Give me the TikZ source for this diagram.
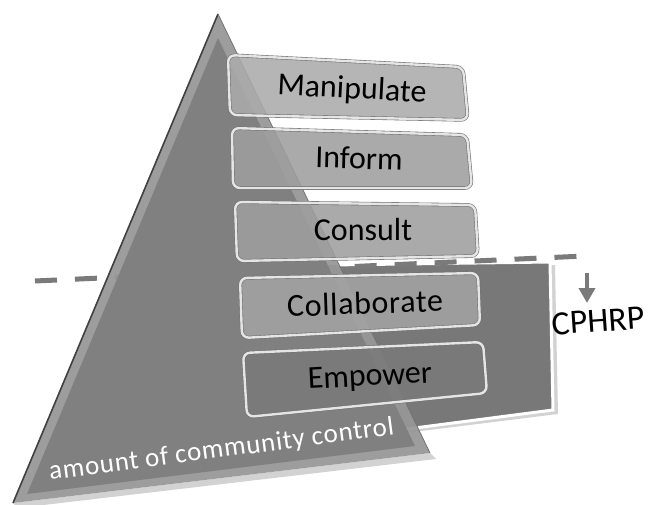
\documentclass[tikz,border=0pt]{standalone}
\usepackage{fontspec}
\setmainfont{Carlito}
\usetikzlibrary{arrows.meta}

\definecolor{panelgray}{HTML}{787878}
\definecolor{trigray}{HTML}{7F7F7F}
\definecolor{bevelgray}{HTML}{979797}
\definecolor{dashgray}{HTML}{7A7A7A}

\begin{document}
\begin{tikzpicture}[x=1pt,y=-1pt,
	rung/.style={rounded corners=7pt,fill opacity=.88,draw=black!55,double=black!10,double distance=2.4pt,line width=.6pt},
	rungtext/.style={font=\fontsize{32}{36}\selectfont,text=black},
	level/.style={line width=5pt,draw=dashgray,dash pattern=on 22pt off 18pt},
	down/.style={line width=4pt,draw=dashgray,-{Triangle[width=16pt,length=15pt]}}]
	\useasboundingbox (0,0) rectangle (648,505);

	% back panel
	\fill[gray!35] (333,268) -- (555,265) -- (558,414) -- (333,442) -- cycle;
	\draw[fill=panelgray,draw=white,line width=3pt] (330,265) -- (550,262) -- (553,410) -- (330,439) -- cycle;

	% dashed level line
	\coordinate (dashL) at (35,281);
	\coordinate (dashR) at (585,256);
	\draw[level] (dashL) -- (dashR);

	% triangle
	\fill[gray!35] (13,503) -- (430,453) -- (436,459) -- (18,508) -- cycle;
	\fill[bevelgray,fill opacity=.94] (218,14) -- (430,453) -- (13,503) -- cycle;
	\fill[trigray,fill opacity=.94] (218,38) -- (415,446) -- (27,494) -- cycle;
	\draw[black!75,line width=1.6pt] (218,14) -- (13,503);
	\draw[black!55,line width=.8pt] (218,14) -- (430,453);

	% rungs
	\draw[rung,fill=black!33] (228,55) -- (463,67) -- (468,120) -- (230,115) -- cycle;
	\draw[rung,fill=black!38] (232,128) -- (467,135) -- (472,188) -- (233,188) -- cycle;
	\draw[rung,fill=black!38] (235,202) -- (475,205) -- (478,256) -- (237,261) -- cycle;
	\draw[rung,fill=black!36] (240,278) -- (478,273) -- (480,325) -- (242,338) -- cycle;
	\draw[rung,fill=black!52] (243,353) -- (483,342) -- (487,393) -- (247,417) -- cycle;

	\node[rungtext,rotate=-3] (manip) at (352,90) {Manipulate};
	\node[rungtext,rotate=-1.5] (inform) at (359,158) {Inform};
	\node[rungtext] (consult) at (363,230) {Consult};
	\node[rungtext,rotate=2] (collab) at (365,303) {\addfontfeatures{LetterSpace=2}Collaborate};
	\node[rungtext,rotate=3] (empower) at (370,378) {Empower};

	\node[font=\fontsize{27}{30}\selectfont,text=white,rotate=7.5,anchor=base west,inner sep=0pt] (amount) at (50,480) {\addfontfeatures{LetterSpace=3}amount of community control};

	% CPHRP marker
	\coordinate (arrtop) at (587,273);
	\coordinate (arrtip) at (587,303);
	\draw[down] (arrtop) -- (arrtip);
	\node[font=\fontsize{34}{38}\selectfont,rotate=4] (cphrp) at (598,321) {CPHRP};
\end{tikzpicture}
\end{document}
